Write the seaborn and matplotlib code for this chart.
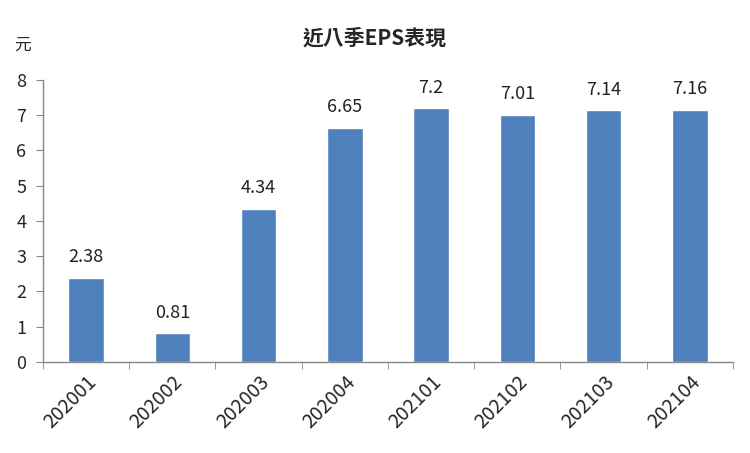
import matplotlib
matplotlib.use('Agg')
import matplotlib.pyplot as plt
import seaborn as sns
import pandas as pd
import numpy as np

quarters = ['202001', '202002', '202003', '202004', '202101', '202102', '202103', '202104']
eps = [2.38, 0.81, 4.34, 6.65, 7.2, 7.01, 7.14, 7.16]
eps_labels = ['2.38', '0.81', '4.34', '6.65', '7.2', '7.01', '7.14', '7.16']

sns.set_style('white')
plt.rcParams['font.family'] = ['Noto Sans CJK TC', 'DejaVu Sans']

df = pd.DataFrame({'quarter': quarters, 'eps': eps})

fig = plt.figure(figsize=(7.5, 4.53), dpi=100)
ax = fig.add_axes([0.0573, 0.2009, 0.92, 0.6225])
sns.barplot(data=df, x='quarter', y='eps', color='#4F81BD', saturation=1, width=0.41, ax=ax)

# 막대 위 값
for i, v in enumerate(eps):
    ax.text(i, v + 0.33, eps_labels[i], ha='center', va='bottom', fontsize=13, color='#222222')

ax.set_ylim(0, 8)
ax.set_xlim(-0.5, len(quarters) - 0.5)
ax.set_yticks(range(0, 9))
ax.set_xlabel('')
ax.set_ylabel('')
ax.tick_params(axis='y', labelsize=13, length=5, color='#888888', direction='out', left=True, pad=7)
ax.tick_params(axis='x', which='major', length=0, labelsize=14, pad=7)
ax.set_xticks(np.arange(-0.5, len(quarters), 1), minor=True)
ax.tick_params(axis='x', which='minor', length=5, color='#888888', direction='out', bottom=True)
plt.setp(ax.get_xticklabels(), rotation=45, ha='right', rotation_mode='anchor')

for s in ['top', 'right']:
    ax.spines[s].set_visible(False)
for s in ['left', 'bottom']:
    ax.spines[s].set_color('#888888')
    ax.spines[s].set_linewidth(1)

fig.text(0.5, 0.915, '近八季EPS表現', ha='center', va='center', fontsize=15, fontweight='bold')
fig.text(0.03, 0.9, '元', ha='center', va='center', fontsize=12)

fig.savefig('out.png', dpi=100)
